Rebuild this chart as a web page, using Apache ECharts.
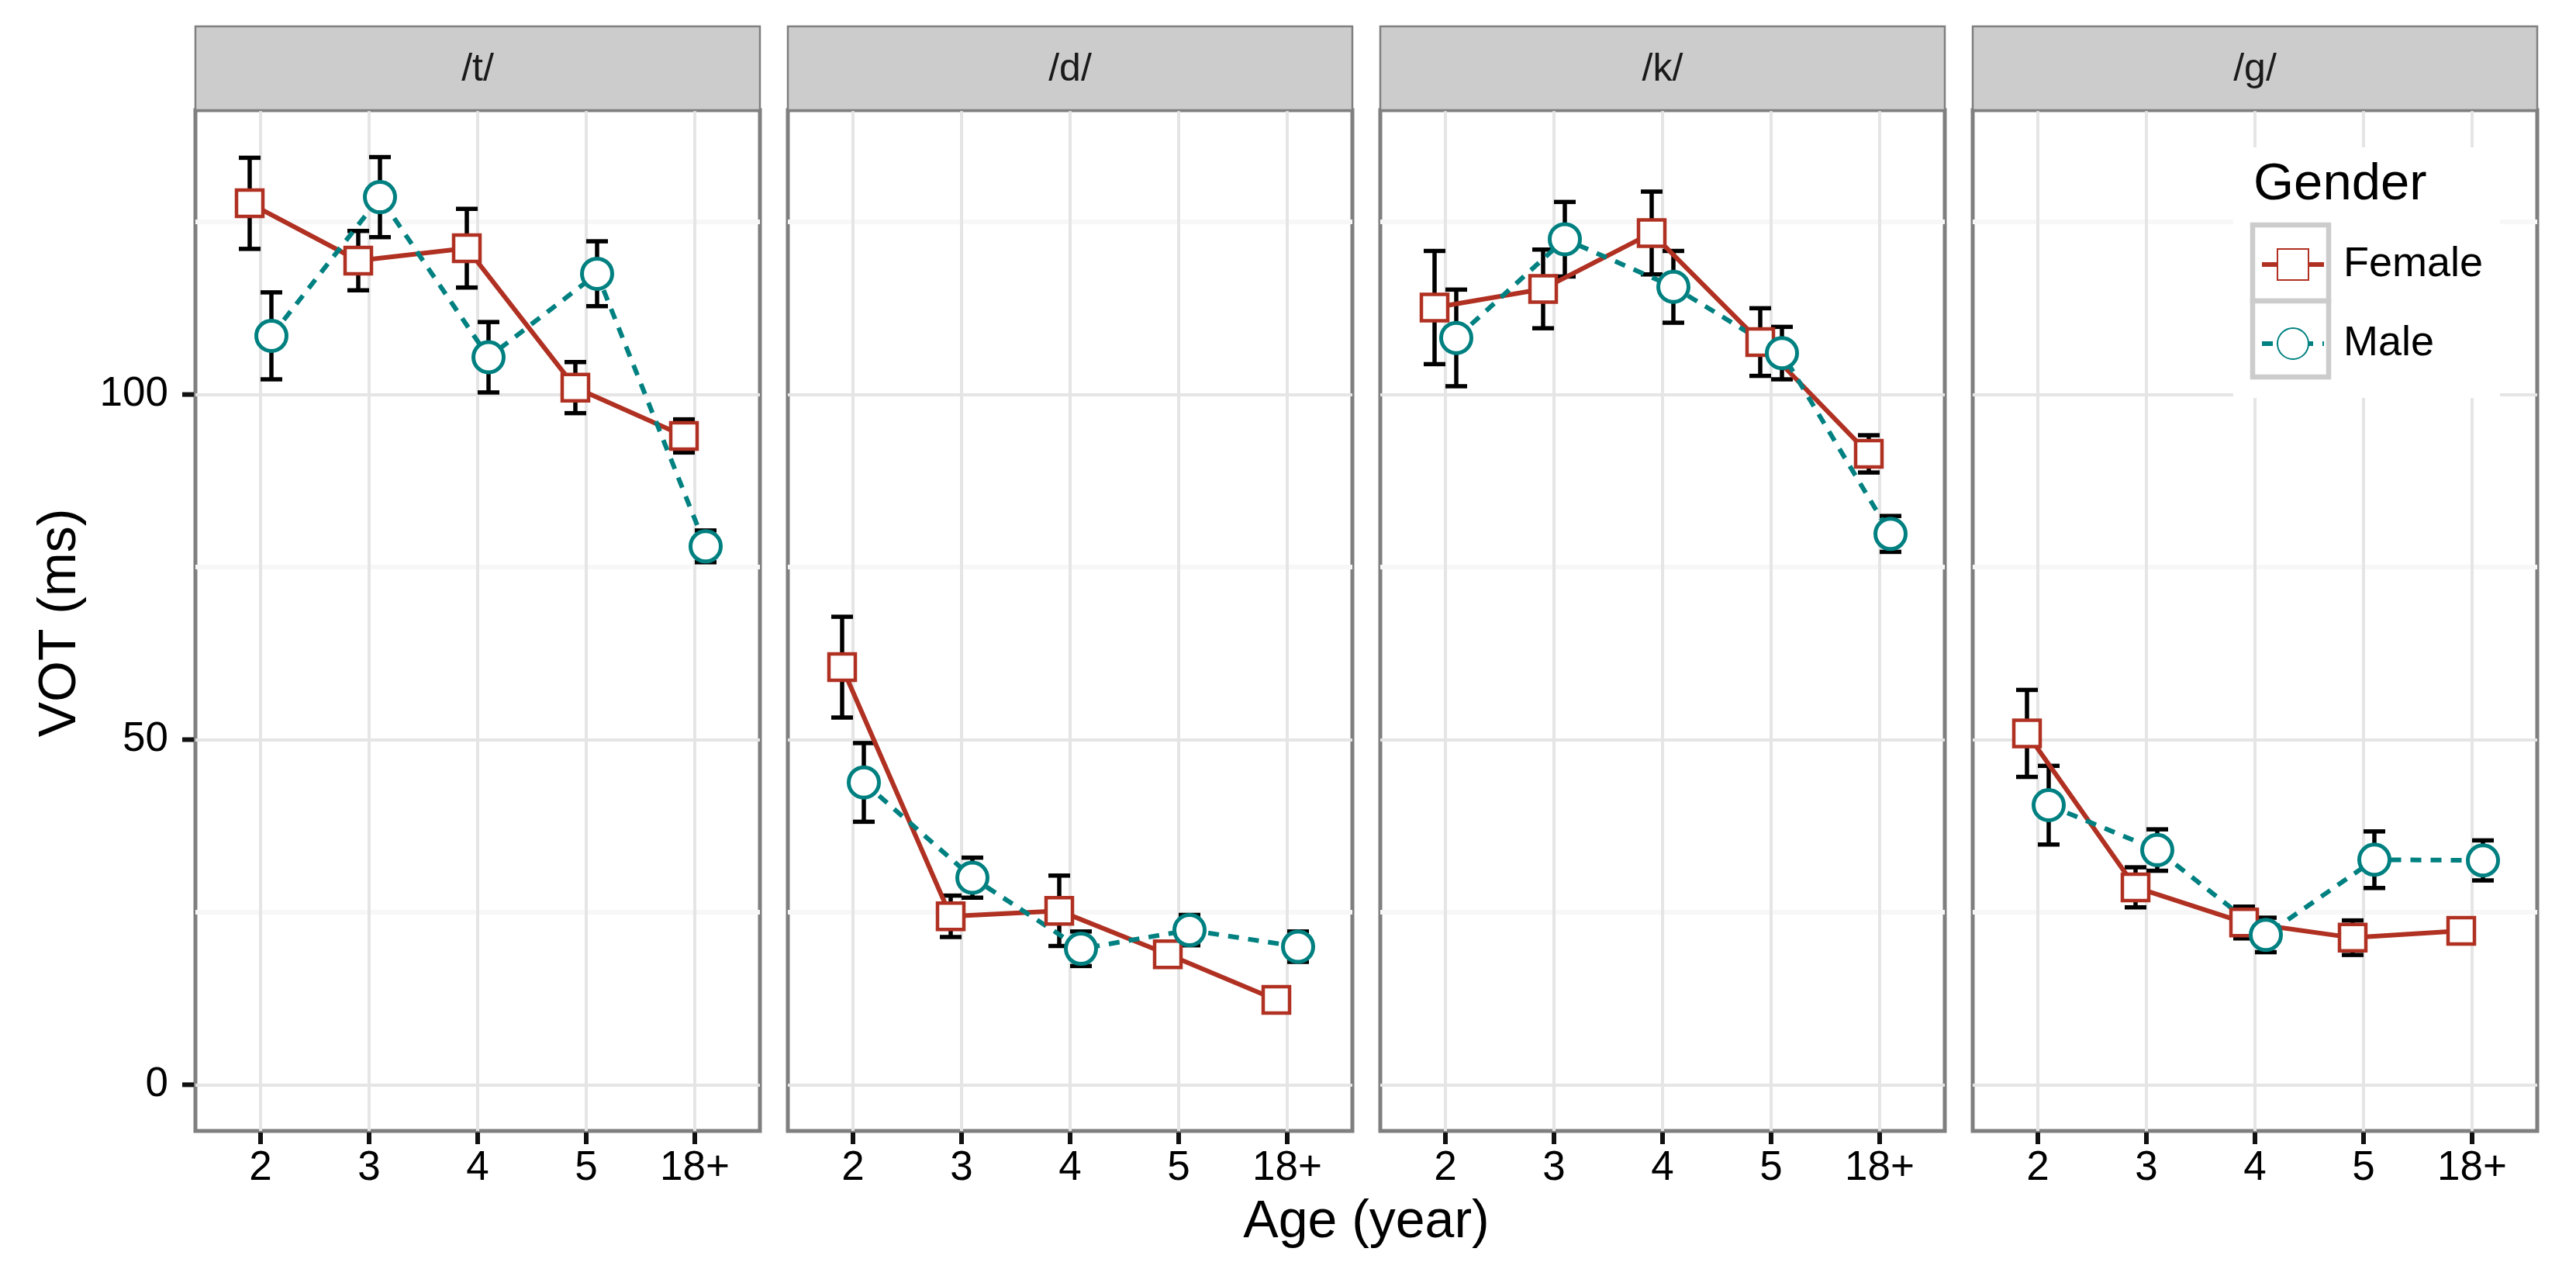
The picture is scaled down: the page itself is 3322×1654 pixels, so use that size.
<!DOCTYPE html>
<html>
<head>
<meta charset="utf-8">
<title>VOT by age and gender</title>
<script src="https://cdn.jsdelivr.net/npm/echarts@6/dist/echarts.min.js"></script>
<style>
  html, body { margin: 0; padding: 0; background: #fff; }
  #chart { width: 3322px; height: 1654px; }
</style>
</head>
<body>
<div id="chart"></div>
<script>
const ages = ["2", "3", "4", "5", "18+"];
const phonemes = ["/t/", "/d/", "/k/", "/g/"];
const xTicks = [0, 1, 2, 3, 4];
const yTicks = [0, 50, 100];
const yMinorTicks = [25, 75, 125];

// mean VOT (ms) and half error bar, one pair of arrays per phoneme and gender
const tFemale = [127.7, 119.4, 121.2, 101.0, 94.0];
const tFemaleErr = [6.6, 4.3, 5.7, 3.7, 2.4];
const tMale = [108.5, 128.6, 105.4, 117.5, 78.0];
const tMaleErr = [6.3, 5.8, 5.1, 4.7, 2.3];

const dFemale = [60.5, 24.4, 25.2, 18.9, 12.3];
const dFemaleErr = [7.3, 3.0, 5.1, 1.4, 0.8];
const dMale = [43.8, 30.0, 19.7, 22.4, 20.0];
const dMaleErr = [5.7, 2.9, 2.5, 2.2, 2.2];

const kFemale = [112.6, 115.3, 123.4, 107.6, 91.4];
const kFemaleErr = [8.2, 5.7, 6.0, 4.9, 2.7];
const kMale = [108.2, 122.5, 115.6, 106.0, 79.8];
const kMaleErr = [7.0, 5.4, 5.2, 3.8, 2.6];

const gFemale = [50.9, 28.6, 23.5, 21.3, 22.3];
const gFemaleErr = [6.3, 2.9, 2.3, 2.5, 1.0];
const gMale = [40.5, 34.0, 21.7, 32.6, 32.5];
const gMaleErr = [5.7, 3.0, 2.5, 4.1, 2.9];

const femaleByPanel = [tFemale, dFemale, kFemale, gFemale];
const femaleErrByPanel = [tFemaleErr, dFemaleErr, kFemaleErr, gFemaleErr];
const maleByPanel = [tMale, dMale, kMale, gMale];
const maleErrByPanel = [tMaleErr, dMaleErr, kMaleErr, gMaleErr];

// layout (pixels)
const panelLeft = [252, 1016, 1780, 2544];
const panelWidth = 728;
const panelTop = 142;
const panelHeight = 1316;
const stripTop = 34;
const yMin = -6.7, yMax = 141.2;
const xMin = -0.6, xMax = 4.6;
const dodge = 0.1;
const tickLen = 17;

const FONT = "Liberation Sans, Arial, sans-serif";
const RED = "#B03022";
const TEAL = "#008080";
const BORDER = "#7F7F7F";

const chart = echarts.init(document.getElementById("chart"));

function renderErrorBar(params, api) {
  const x = api.value(0);
  const top = api.coord([x, api.value(2)]);
  const bottom = api.coord([x, api.value(1)]);
  const half = api.size([0.1, 0])[0];
  const style = { stroke: "#000", lineWidth: 5.5 };
  return {
    type: "group",
    children: [
      { type: "line", shape: { x1: top[0], y1: top[1], x2: bottom[0], y2: bottom[1] }, style: style },
      { type: "line", shape: { x1: top[0] - half, y1: top[1], x2: top[0] + half, y2: top[1] }, style: style },
      { type: "line", shape: { x1: bottom[0] - half, y1: bottom[1], x2: bottom[0] + half, y2: bottom[1] }, style: style }
    ]
  };
}

const grids = [], xAxes = [], yAxes = [];
const barSeries = [], lineSeries = [], pointSeries = [];
const graphics = [];

phonemes.forEach((ph, i) => {
  grids.push({
    left: panelLeft[i], top: panelTop, width: panelWidth, height: panelHeight,
    show: true, borderColor: BORDER, borderWidth: 5, backgroundColor: "transparent"
  });
  xAxes.push({
    type: "value", gridIndex: i, min: xMin, max: xMax, position: "bottom",
    axisLine: { show: false, onZero: false },
    axisTick: { show: false, customValues: xTicks },
    axisLabel: {
      customValues: xTicks, margin: 22,
      fontSize: 53, color: "#000", fontFamily: FONT,
      formatter: v => ages[Math.round(v)]
    },
    splitLine: { show: true, lineStyle: { color: "#E5E5E5", width: 4 } }
  });
  yAxes.push({
    type: "value", gridIndex: i, min: yMin, max: yMax, position: "left",
    axisLine: { show: false, onZero: false },
    axisTick: { show: false, customValues: yTicks },
    axisLabel: {
      show: i === 0, customValues: yTicks, margin: 35,
      fontSize: 53, color: "#000", fontFamily: FONT
    },
    splitLine: { show: true, lineStyle: { color: "#E5E5E5", width: 4 } }
  });
  // second y axis only for the faint minor grid lines
  yAxes.push({
    type: "value", gridIndex: i, min: yMin, max: yMax, position: "left",
    axisLine: { show: false, onZero: false },
    axisTick: { show: false, customValues: yMinorTicks },
    axisLabel: { show: false },
    splitLine: { show: true, lineStyle: { color: "#F7F7F7", width: 6 } }
  });

  const fem = femaleByPanel[i], femErr = femaleErrByPanel[i];
  const mal = maleByPanel[i], malErr = maleErrByPanel[i];
  const yi = 2 * i;

  [[fem, femErr, -dodge], [mal, malErr, dodge]].forEach(([vals, errs, off]) => {
    barSeries.push({
      type: "custom", xAxisIndex: i, yAxisIndex: yi, z: 1,
      renderItem: renderErrorBar,
      data: ages.map((a, j) => [j + off, vals[j] - errs[j], vals[j] + errs[j]])
    });
  });

  lineSeries.push({
    name: "Female", type: "line", xAxisIndex: i, yAxisIndex: yi, z: 2,
    data: ages.map((a, j) => [j - dodge, fem[j]]),
    symbol: "rect", symbolSize: 34, showSymbol: false,
    itemStyle: { color: "#fff", borderColor: RED, borderWidth: 4.5, opacity: 1 },
    lineStyle: { color: RED, width: 6, type: "solid" }
  });
  lineSeries.push({
    name: "Male", type: "line", xAxisIndex: i, yAxisIndex: yi, z: 2,
    data: ages.map((a, j) => [j + dodge, mal[j]]),
    symbol: "circle", symbolSize: 39, showSymbol: false,
    itemStyle: { color: "#fff", borderColor: TEAL, borderWidth: 5, opacity: 1 },
    lineStyle: { color: TEAL, width: 6, type: [14, 12] }
  });
  pointSeries.push({
    name: "Female", type: "scatter", xAxisIndex: i, yAxisIndex: yi, z: 3,
    data: ages.map((a, j) => [j - dodge, fem[j]]),
    symbol: "rect", symbolSize: 34,
    itemStyle: { color: "#fff", borderColor: RED, borderWidth: 4.5, opacity: 1 }
  });
  pointSeries.push({
    name: "Male", type: "scatter", xAxisIndex: i, yAxisIndex: yi, z: 3,
    data: ages.map((a, j) => [j + dodge, mal[j]]),
    symbol: "circle", symbolSize: 39,
    itemStyle: { color: "#fff", borderColor: TEAL, borderWidth: 5, opacity: 1 }
  });

  // facet strip
  graphics.push({
    type: "rect", z: 5,
    shape: { x: panelLeft[i], y: stripTop, width: panelWidth, height: panelTop - stripTop },
    style: { fill: "#CCCCCC", stroke: BORDER, lineWidth: 2.5 }
  });
  graphics.push({
    type: "text", z: 6,
    x: panelLeft[i] + panelWidth / 2, y: (stripTop + panelTop) / 2 + 2,
    style: { text: ph, fontSize: 50, fontFamily: FONT, fill: "#1A1A1A", align: "center", verticalAlign: "middle" }
  });
});

// axis titles
graphics.push({
  type: "text", z: 6, x: 1762, y: 1576,
  style: { text: "Age (year)", fontSize: 68, fontFamily: FONT, fill: "#000", align: "center", verticalAlign: "middle" }
});
graphics.push({
  type: "text", z: 6, x: 78, y: 803, rotation: Math.PI / 2,
  style: { text: "VOT (ms)", fontSize: 68, fontFamily: FONT, fill: "#000", align: "center", verticalAlign: "middle" }
});

// legend box, title and key backgrounds
graphics.push({ type: "rect", z: 5, shape: { x: 2880, y: 190, width: 344, height: 323 }, style: { fill: "#fff" } });
graphics.push({
  type: "text", z: 6, x: 2906, y: 239,
  style: { text: "Gender", fontSize: 67, fontFamily: FONT, fill: "#000", align: "left", verticalAlign: "middle" }
});
graphics.push({ type: "rect", z: 6, shape: { x: 2905, y: 290, width: 98, height: 98 }, style: { fill: "#fff", stroke: "#CCCCCC", lineWidth: 6.5 } });
graphics.push({ type: "rect", z: 6, shape: { x: 2905, y: 388, width: 98, height: 98 }, style: { fill: "#fff", stroke: "#CCCCCC", lineWidth: 6.5 } });

const option = {
  animation: false,
  backgroundColor: "#fff",
  grid: grids,
  xAxis: xAxes,
  yAxis: yAxes,
  legend: {
    data: ["Female", "Male"],
    orient: "vertical",
    left: 2914, top: 314,
    itemWidth: 80, itemHeight: 50, itemGap: 48,
    padding: 0, z: 10,
    selectedMode: false,
    lineStyle: { width: 6 },
    textStyle: { fontSize: 54, color: "#000", fontFamily: FONT, padding: [0, 0, 0, 20] }
  },
  graphic: graphics,
  series: barSeries.concat(lineSeries, pointSeries)
};

chart.setOption(option);

// outside tick marks; positions come from the axes when possible,
// otherwise from the same linear mapping the grids use
function toPixel(i, x, y) {
  let p = null;
  try { p = chart.convertToPixel({ gridIndex: i }, [x, y]); } catch (e) { p = null; }
  if (!p || !isFinite(p[0]) || !isFinite(p[1])) {
    p = [
      panelLeft[i] + (x - xMin) / (xMax - xMin) * panelWidth,
      panelTop + (yMax - y) / (yMax - yMin) * panelHeight
    ];
  }
  return p;
}
const tickStyle = { stroke: "#111", lineWidth: 6 };
const tickGraphics = [];
phonemes.forEach((ph, i) => {
  xTicks.forEach(v => {
    const p = toPixel(i, v, yMin);
    tickGraphics.push({
      type: "line", z: 20,
      shape: { x1: p[0], y1: p[1] + 2, x2: p[0], y2: p[1] + tickLen },
      style: tickStyle
    });
  });
});
yTicks.forEach(v => {
  const p = toPixel(0, xMin, v);
  tickGraphics.push({
    type: "line", z: 20,
    shape: { x1: p[0] - 2, y1: p[1], x2: p[0] - tickLen, y2: p[1] },
    style: tickStyle
  });
});
chart.setOption({ graphic: graphics.concat(tickGraphics) });

window.addEventListener("resize", () => chart.resize());
</script>
</body>
</html>
